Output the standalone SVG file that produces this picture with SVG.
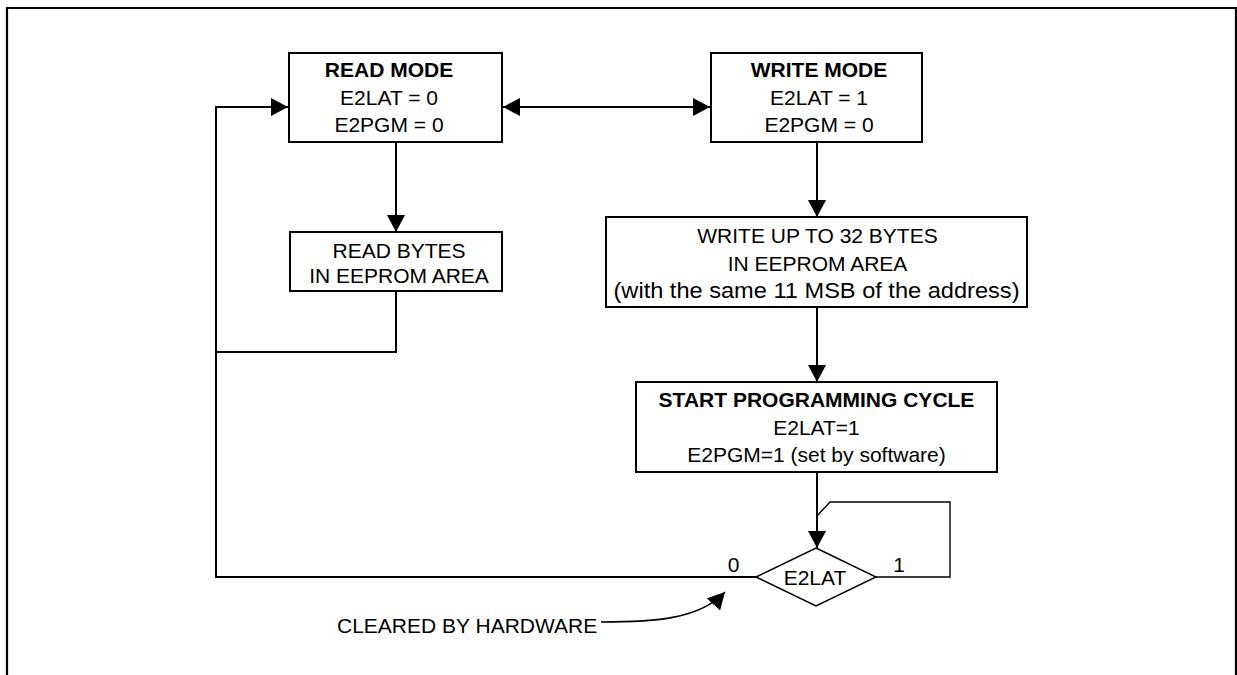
<svg xmlns="http://www.w3.org/2000/svg" width="1237" height="675" viewBox="0 0 1237 675">
<style>
.box{fill:#fff;stroke:#000;stroke-width:2}
.dia{fill:#fff;stroke:#000;stroke-width:1.4}
.ln{fill:none;stroke:#000;stroke-width:2}
.thin{fill:none;stroke:#000;stroke-width:1.4}
text{font-family:"Liberation Sans",Arial,Helvetica,sans-serif;font-size:21px;fill:#000;text-anchor:middle}
.b{font-weight:bold}
.l{text-anchor:start}
</style>
<defs>
<marker id="ah" viewBox="0 0 17 18" refX="17" refY="9" markerWidth="17" markerHeight="18" markerUnits="userSpaceOnUse" orient="auto-start-reverse">
<path d="M0,0 L17,9 L0,18 Z" fill="#000"/>
</marker>
</defs>
<rect width="1237" height="675" fill="#fff"/>
<path d="M7,676 V8 H1236 V676" fill="none" stroke="#000" stroke-width="2.2"/>
<g id="connectors">
<path class="ln" d="M503,107 H710" marker-start="url(#ah)" marker-end="url(#ah)"/>
<path class="ln" d="M396,142 V232" marker-end="url(#ah)"/>
<path class="ln" d="M817,142 V217" marker-end="url(#ah)"/>
<path class="ln" d="M817,307 V382" marker-end="url(#ah)"/>
<path class="ln" d="M817,472 V548" marker-end="url(#ah)"/>
<path class="ln" d="M396,291 V352 H216"/>
<path class="ln" d="M756,577 H216 V107 H288" marker-end="url(#ah)"/>
<path class="thin" d="M876,577 H950 V502 H830 L817,516"/>
<path d="M601,622 C655,622 700,619 725,592" fill="none" stroke="#000" stroke-width="1.6" marker-end="url(#ah)"/>
</g>
<g id="read-mode">
<rect class="box" x="289" y="53" width="213" height="89"/>
<text class="b" x="389" y="77">READ MODE</text>
<text x="389" y="105">E2LAT = 0</text>
<text x="389" y="132">E2PGM = 0</text>
</g>
<g id="write-mode">
<rect class="box" x="711" y="53" width="211" height="89"/>
<text class="b" x="819" y="77">WRITE MODE</text>
<text x="819" y="105">E2LAT = 1</text>
<text x="819" y="132">E2PGM = 0</text>
</g>
<g id="read-bytes">
<rect class="box" x="290" y="232" width="212" height="59"/>
<text x="399" y="258">READ BYTES</text>
<text x="399" y="283">IN EEPROM AREA</text>
</g>
<g id="write-bytes">
<rect class="box" x="606" y="217" width="421" height="90"/>
<text x="817.5" y="243">WRITE UP TO 32 BYTES</text>
<text x="817.5" y="271">IN EEPROM AREA</text>
<text x="816.5" y="298" style="font-size:22px" textLength="406" lengthAdjust="spacingAndGlyphs">(with the same 11 MSB of the address)</text>
</g>
<g id="start-cycle">
<rect class="box" x="636" y="382" width="361" height="90"/>
<text class="b" x="816.5" y="407">START PROGRAMMING CYCLE</text>
<text x="816.5" y="435">E2LAT=1</text>
<text x="816.5" y="462">E2PGM=1 (set by software)</text>
</g>
<g id="e2lat-decision">
<path class="dia" d="M816,548 L876,577 L816,606 L756,577 Z"/>
<text x="815" y="585">E2LAT</text>
<text x="733.5" y="572">0</text>
<text x="899" y="572">1</text>
</g>
<g id="cleared-label">
<text class="l" x="337" y="633">CLEARED BY HARDWARE</text>
</g>
</svg>
